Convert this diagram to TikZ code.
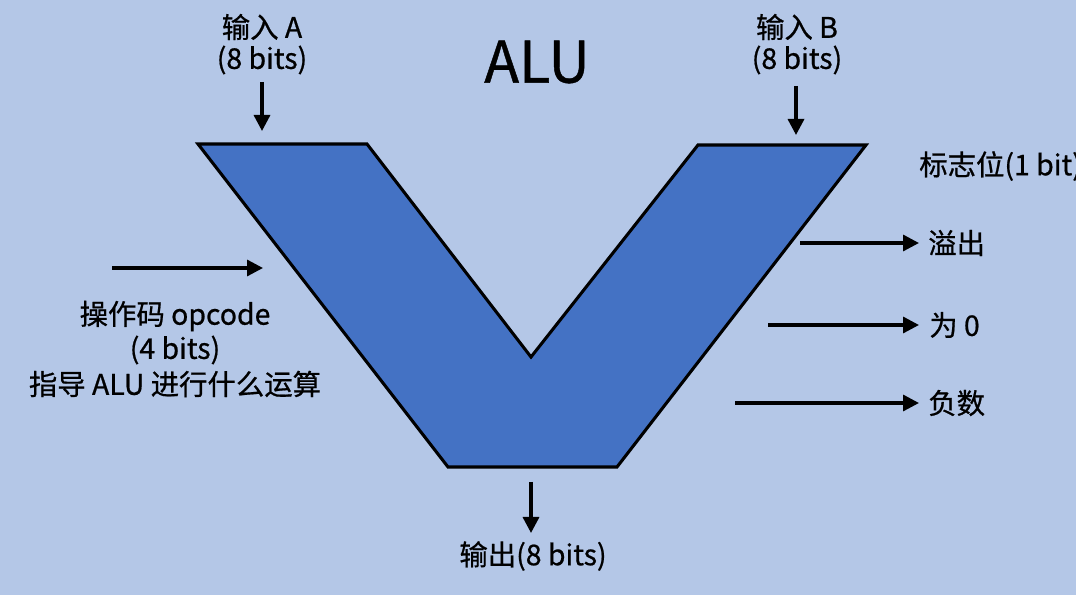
\documentclass[tikz,border=0pt]{standalone}
\usepackage{fontspec}
\setmainfont{Noto Sans CJK SC}[FakeBold=0.7]
\usetikzlibrary{arrows.meta}
\definecolor{bgblue}{HTML}{B4C7E7}
\definecolor{alublue}{HTML}{4472C4}
\tikzset{
  lbl/.style={font=\fontsize{21.3}{24}\selectfont, inner sep=0pt},
  sig/.style={line width=2.5pt, -{Triangle[length=12pt,width=12pt]}},
}
\begin{document}
\begin{tikzpicture}[x=0.75pt,y=-0.75pt]
\useasboundingbox (0,0) rectangle (1076,595);
\clip (0,0) rectangle (1076,595);
\fill[bgblue] (0,0) rectangle (1076,595);
% ALU body
\draw[fill=alublue, line width=2.3pt, line join=miter]
  (198,144) -- (367,144) -- (531,357) -- (698,145) -- (866,145) -- (617,467) -- (448,467) -- cycle;
% title
\node[font=\fontsize{43}{46}\selectfont, inner sep=0pt] (title) at (537,62) {ALU};
% inputs
\node[lbl] (inA) at (262,27) {输入 A};
\node[lbl] (inAb) at (262,60) {(8 bits)};
\node[lbl] (inB) at (797,27) {输入 B};
\node[lbl] (inBb) at (797,60) {(8 bits)};
\coordinate (a1) at (262,82); \coordinate (a2) at (262,131);
\coordinate (b1) at (796,86); \coordinate (b2) at (796,135);
\draw[sig] (a1) -- (a2);
\draw[sig] (b1) -- (b2);
% opcode
\coordinate (o1) at (112,268); \coordinate (o2) at (263,268);
\draw[sig] (o1) -- (o2);
\node[lbl] (op1) at (175,316) {操作码 opcode};
\node[lbl] (op2) at (175,350) {(4 bits)};
\node[lbl] (op3) at (175,384) {指导 ALU 进行什么运算};
% output
\coordinate (y1) at (531,482); \coordinate (y2) at (531,533);
\draw[sig] (y1) -- (y2);
\node[lbl] (outp) at (533,556) {输出(8 bits)};
% flags
\node[lbl, anchor=west] (flag) at (919,166) {标志位(1 bit)};
\node[lbl, anchor=west] (ovf) at (928,243) {溢出};
\node[lbl, anchor=west] (zero) at (929,325) {为 0};
\node[lbl, anchor=west] (neg) at (928,403) {负数};
\coordinate (f1) at (800,243); \coordinate (f2) at (919,243);
\coordinate (z1) at (768,325); \coordinate (z2) at (919,325);
\coordinate (n1) at (735,403); \coordinate (n2) at (919,403);
\draw[sig] (f1) -- (f2);
\draw[sig] (z1) -- (z2);
\draw[sig] (n1) -- (n2);
\end{tikzpicture}
\end{document}
